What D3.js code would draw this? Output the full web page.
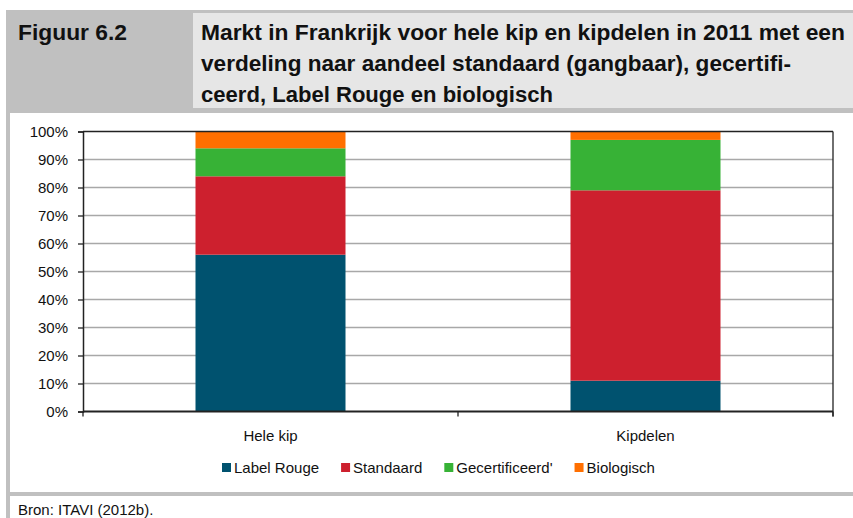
<!DOCTYPE html>
<html>
<head>
<meta charset="utf-8">
<script src="https://cdn.jsdelivr.net/npm/d3@7"></script>
<style>
  html, body { margin: 0; padding: 0; background: #fff; }
  svg { display: block; }
</style>
</head>
<body>
<svg id="chart" width="853" height="518"></svg>
<script>
// ---- Data ----
const categories = ["Hele kip", "Kipdelen"];
const seriesNames = ["Label Rouge", "Standaard", "Gecertificeerd'", "Biologisch"];
const labelRouge = [56, 11];
const standaard = [28, 68];
const gecertificeerd = [10, 18];
const biologisch = [6, 3];
const yTicks = [0, 10, 20, 30, 40, 50, 60, 70, 80, 90, 100];
const figLabel = "Figuur 6.2";
const titleLines = [
  "Markt in Frankrijk voor hele kip en kipdelen in 2011 met een",
  "verdeling naar aandeel standaard (gangbaar), gecertifi-",
  "ceerd, Label Rouge en biologisch"
];
const sourceText = "Bron: ITAVI (2012b).";

// ---- Styles ----
const colors = ["#00526f", "#cd202e", "#37b236", "#ff6f00"];
const font = "'Liberation Sans', Arial, sans-serif";

const svg = d3.select("#chart");

// ---- Frame / header ----
svg.append("rect").attr("x", 6).attr("y", 10).attr("width", 847).attr("height", 103).attr("fill", "#c0c0c0");
svg.append("rect").attr("x", 193).attr("y", 13).attr("width", 660).attr("height", 95).attr("fill", "#e6e6e6");
svg.append("rect").attr("x", 6).attr("y", 113).attr("width", 4).attr("height", 405).attr("fill", "#c0c0c0");
svg.append("rect").attr("x", 6).attr("y", 492).attr("width", 847).attr("height", 4).attr("fill", "#c0c0c0");

svg.append("text").attr("x", 18).attr("y", 40)
  .attr("font-family", font).attr("font-weight", "bold").attr("font-size", 22)
  .attr("fill", "#111").attr("textLength", 109).attr("lengthAdjust", "spacingAndGlyphs")
  .text(figLabel);

const titleWidths = [644, 590, 352];
svg.selectAll("text.title").data(titleLines).join("text")
  .attr("class", "title")
  .attr("x", 201).attr("y", (d, i) => 40 + i * 31)
  .attr("font-family", font).attr("font-weight", "bold").attr("font-size", 22)
  .attr("fill", "#111")
  .attr("textLength", (d, i) => titleWidths[i]).attr("lengthAdjust", "spacingAndGlyphs")
  .text(d => d);

svg.append("text").attr("x", 18).attr("y", 515)
  .attr("font-family", font).attr("font-size", 15).attr("fill", "#111")
  .text(sourceText);

// ---- Plot ----
const pLeft = 83, pRight = 833, pTop = 131.5, pBottom = 411.5;
const x = d3.scaleBand().domain(categories).range([pLeft, pRight]).paddingInner(0).paddingOuter(0);
const y = d3.scaleLinear().domain([0, 100]).range([pBottom, pTop]);
const barW = x.bandwidth() * 0.4;

// gridlines
svg.append("g").selectAll("line").data(yTicks.filter(t => t > 0 && t < 100)).join("line")
  .attr("x1", pLeft).attr("x2", pRight)
  .attr("y1", d => y(d)).attr("y2", d => y(d))
  .attr("stroke", "#a8a8a8").attr("stroke-width", 1.3);

// stacked bars
const table = categories.map((c, i) => ({
  cat: c,
  "Label Rouge": labelRouge[i],
  "Standaard": standaard[i],
  "Gecertificeerd'": gecertificeerd[i],
  "Biologisch": biologisch[i]
}));
const stack = d3.stack().keys(seriesNames)(table);
svg.append("g").selectAll("g").data(stack).join("g")
  .attr("fill", (d, i) => colors[i])
  .selectAll("rect").data(d => d).join("rect")
  .attr("x", d => x(d.data.cat) + (x.bandwidth() - barW) / 2)
  .attr("width", barW)
  .attr("y", d => y(d[1]))
  .attr("height", d => y(d[0]) - y(d[1]));

// top border and right border
svg.append("line").attr("x1", pLeft).attr("x2", pRight).attr("y1", y(100)).attr("y2", y(100))
  .attr("stroke", "#222").attr("stroke-width", 1.3);
svg.append("line").attr("x1", pRight).attr("x2", pRight).attr("y1", pTop).attr("y2", pBottom + 5)
  .attr("stroke", "#222").attr("stroke-width", 1.3);

// y axis
const yAxis = svg.append("g").attr("transform", `translate(${pLeft},0)`)
  .call(d3.axisLeft(y).tickValues(yTicks).tickFormat(d => d + "%").tickSize(5).tickPadding(10));
yAxis.select(".domain").attr("stroke", "#222").attr("stroke-width", 1.5);
yAxis.selectAll(".tick line").attr("stroke", "#222").attr("stroke-width", 1.3);
yAxis.selectAll("text").attr("font-family", font).attr("font-size", 15).attr("fill", "#111");

// x axis
const xAxis = svg.append("g").attr("transform", `translate(0,${pBottom})`)
  .call(d3.axisBottom(x).tickSize(0).tickPadding(19));
xAxis.select(".domain").remove();
xAxis.selectAll("text").attr("font-family", font).attr("font-size", 15).attr("fill", "#111");
svg.append("line").attr("x1", pLeft).attr("x2", pRight).attr("y1", pBottom).attr("y2", pBottom)
  .attr("stroke", "#222").attr("stroke-width", 2);
const boundaries = [pLeft, ...categories.map(c => x(c) + x.bandwidth())];
svg.append("g").selectAll("line").data(boundaries).join("line")
  .attr("x1", d => d).attr("x2", d => d).attr("y1", pBottom).attr("y2", pBottom + 5)
  .attr("stroke", "#222").attr("stroke-width", 1.3);

// legend
const legend = svg.append("g").attr("transform", "translate(222,463)");
let lx = 0;
seriesNames.forEach((name, i) => {
  const g = legend.append("g").attr("transform", `translate(${lx},0)`);
  g.append("rect").attr("width", 9).attr("height", 9).attr("fill", colors[i]);
  const t = g.append("text").attr("x", 12).attr("y", 9.5)
    .attr("font-family", font).attr("font-size", 15).attr("fill", "#111").text(name);
  lx += 12 + t.node().getComputedTextLength() + 22;
});
</script>
</body>
</html>
